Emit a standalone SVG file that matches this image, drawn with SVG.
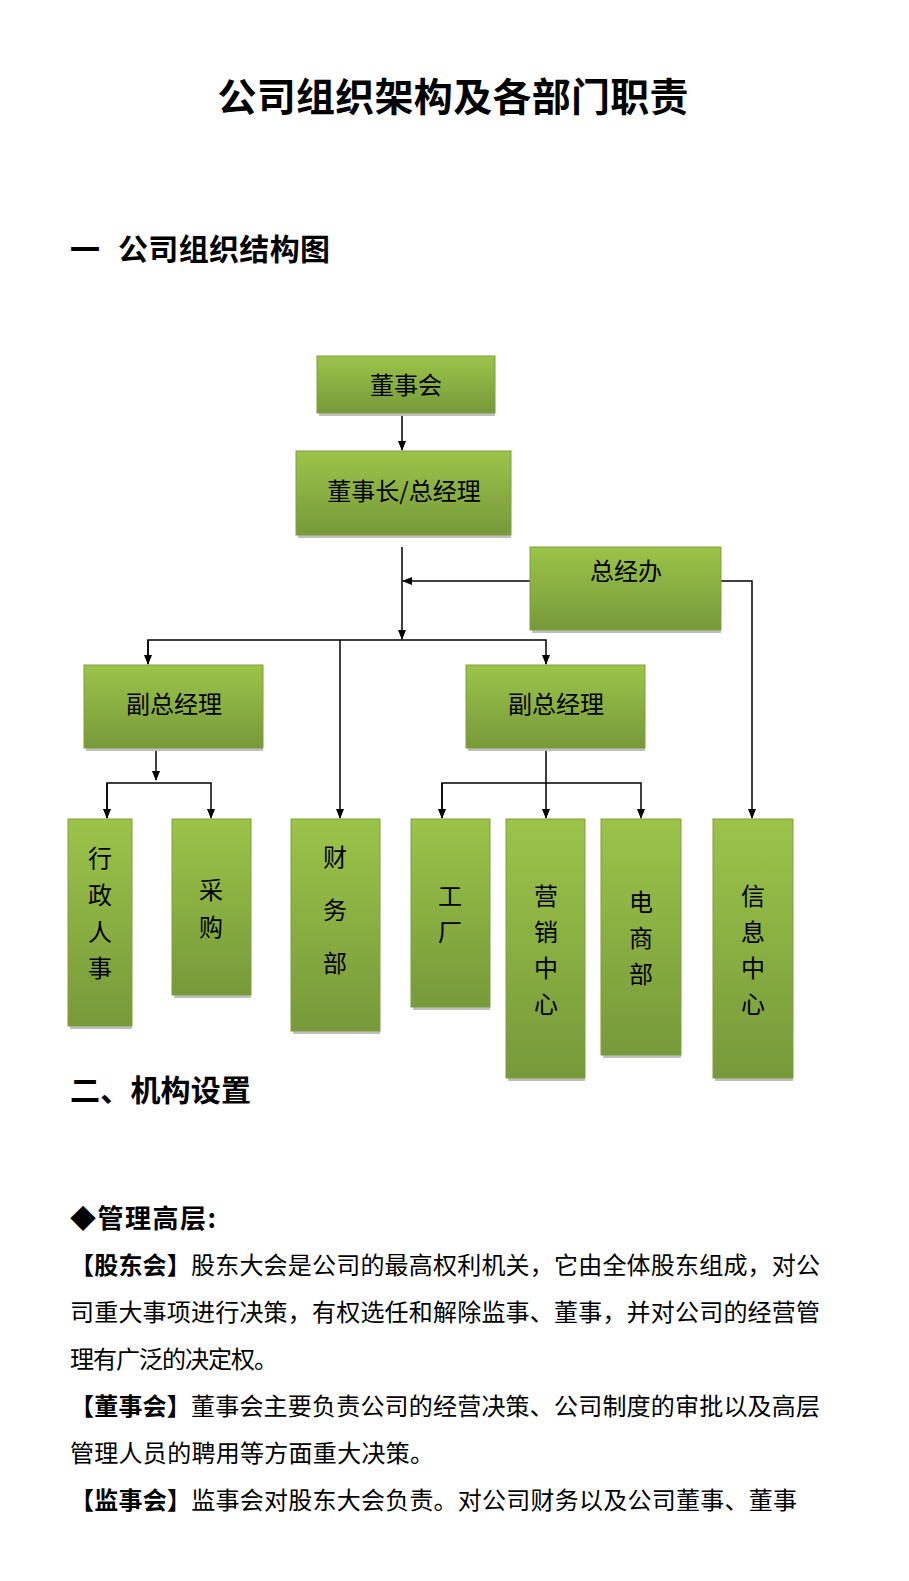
<svg xmlns="http://www.w3.org/2000/svg" width="909" height="1581" viewBox="0 0 909 1581">
<defs>
<linearGradient id="g" x1="0" y1="0" x2="0" y2="1"><stop offset="0" stop-color="#9cc44a"/><stop offset="1" stop-color="#77993a"/></linearGradient>
<marker id="a" markerWidth="10" markerHeight="10" refX="9" refY="5" orient="auto" markerUnits="userSpaceOnUse"><path d="M0,1 L10,5 L0,9 z" fill="#000"/></marker>
<style>
.b{fill:url(#g);stroke:#7f9f40;stroke-width:1}
.s{fill:#bfbfbf}
.t{font-family:"Noto Sans CJK SC",sans-serif;font-size:24px;fill:#000;text-anchor:middle}
.c{stroke:#000;stroke-width:1.5;fill:none}
.h{font-family:"Noto Sans CJK SC",sans-serif;font-weight:bold;fill:#000}
.p{font-family:"Noto Sans CJK SC",sans-serif;font-size:24px;fill:#000}
</style>
</defs>
<rect width="909" height="1581" fill="#fff"/>
<text class="h" x="453" y="111" font-size="39" text-anchor="middle" textLength="471">公司组织架构及各部门职责</text>
<text class="h" x="70" y="260" font-size="30">一</text>
<text class="h" x="118" y="260" font-size="30" textLength="212">公司组织结构图</text>
<g id="connectors">
<path class="c" d="M402,413 V450" marker-end="url(#a)"/>
<path class="c" d="M402,547 V639" marker-end="url(#a)"/>
<path class="c" d="M530,581 H403" marker-end="url(#a)"/>
<path class="c" d="M148,664 V640 H546 V664" marker-end="url(#a)"/>
<path class="c" d="M148,640 V664" marker-end="url(#a)"/>
<path class="c" d="M340,640 V818" marker-end="url(#a)"/>
<path class="c" d="M721,581 H752 V818" marker-end="url(#a)"/>
<path class="c" d="M156,748 V780" marker-end="url(#a)"/>
<path class="c" d="M107,818 V783 H211 V818" marker-end="url(#a)"/>
<path class="c" d="M107,783 V818" marker-end="url(#a)"/>
<path class="c" d="M546,748 V818" marker-end="url(#a)"/>
<path class="c" d="M442,818 V783 H641 V818" marker-end="url(#a)"/>
<path class="c" d="M442,783 V818" marker-end="url(#a)"/>
</g>
<g id="n1"><rect class="s" x="319" y="413" width="176" height="3"/><rect class="b" x="317" y="356" width="178" height="57"/><text class="t" x="406" y="394">董事会</text></g>
<g id="n2"><rect class="s" x="298" y="535" width="213" height="3"/><rect class="b" x="296" y="451" width="215" height="84"/><text class="t" x="404" y="500">董事长/总经理</text></g>
<g id="n3"><rect class="s" x="532" y="630" width="189" height="3"/><rect class="b" x="530" y="547" width="191" height="83"/><text class="t" x="626" y="580">总经办</text></g>
<g id="n4"><rect class="s" x="86" y="748" width="177" height="3"/><rect class="b" x="84" y="665" width="179" height="83"/><text class="t" x="174" y="713">副总经理</text></g>
<g id="n5"><rect class="s" x="468" y="748" width="177" height="3"/><rect class="b" x="466" y="665" width="179" height="83"/><text class="t" x="556" y="713">副总经理</text></g>
<g id="n6"><rect class="s" x="70" y="1026" width="62" height="3"/><rect class="b" x="68" y="819" width="64" height="207"/><text class="t" x="100" y="867">行</text><text class="t" x="100" y="904">政</text><text class="t" x="100" y="941">人</text><text class="t" x="100" y="977">事</text></g>
<g id="n7"><rect class="s" x="174" y="995" width="77" height="3"/><rect class="b" x="172" y="819" width="79" height="176"/><text class="t" x="211" y="899">采</text><text class="t" x="211" y="936">购</text></g>
<g id="n8"><rect class="s" x="293" y="1031" width="87" height="3"/><rect class="b" x="291" y="819" width="89" height="212"/><text class="t" x="335" y="866">财</text><text class="t" x="335" y="919">务</text><text class="t" x="335" y="972">部</text></g>
<g id="n9"><rect class="s" x="413" y="1007" width="77" height="3"/><rect class="b" x="411" y="819" width="79" height="188"/><text class="t" x="450" y="905">工</text><text class="t" x="450" y="941">厂</text></g>
<g id="n10"><rect class="s" x="508" y="1078" width="77" height="3"/><rect class="b" x="506" y="819" width="79" height="259"/><text class="t" x="546" y="905">营</text><text class="t" x="546" y="941">销</text><text class="t" x="546" y="977">中</text><text class="t" x="546" y="1013">心</text></g>
<g id="n11"><rect class="s" x="603" y="1055" width="78" height="3"/><rect class="b" x="601" y="819" width="80" height="236"/><text class="t" x="641" y="911">电</text><text class="t" x="641" y="947">商</text><text class="t" x="641" y="983">部</text></g>
<g id="n12"><rect class="s" x="715" y="1078" width="78" height="3"/><rect class="b" x="713" y="819" width="80" height="259"/><text class="t" x="753" y="905">信</text><text class="t" x="753" y="941">息</text><text class="t" x="753" y="977">中</text><text class="t" x="753" y="1013">心</text></g>
<text class="h" x="70" y="1101" font-size="30" textLength="181">二、机构设置</text>
<text class="h" x="70" y="1228" font-size="26" textLength="146">◆管理高层:</text>
<text class="p" x="70" y="1274" textLength="750"><tspan font-weight="bold">【股东会】</tspan>股东大会是公司的最高权利机关，它由全体股东组成，对公</text>
<text class="p" x="70" y="1321" textLength="750">司重大事项进行决策，有权选任和解除监事、董事，并对公司的经营管</text>
<text class="p" x="70" y="1368" textLength="208">理有广泛的决定权。</text>
<text class="p" x="70" y="1415" textLength="750"><tspan font-weight="bold">【董事会】</tspan>董事会主要负责公司的经营决策、公司制度的审批以及高层</text>
<text class="p" x="70" y="1462" textLength="364">管理人员的聘用等方面重大决策。</text>
<text class="p" x="70" y="1509" textLength="727"><tspan font-weight="bold">【监事会】</tspan>监事会对股东大会负责。对公司财务以及公司董事、董事</text>
</svg>
